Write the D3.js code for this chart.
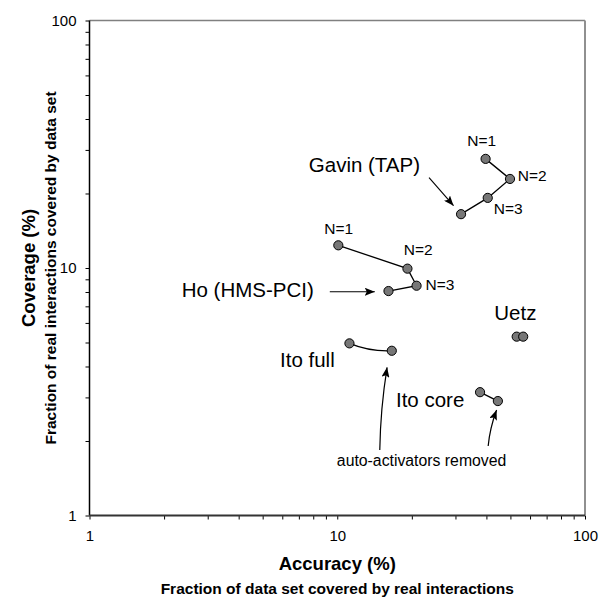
<!DOCTYPE html>
<html>
<head>
<meta charset="utf-8">
<script src="https://cdn.jsdelivr.net/npm/d3@7"></script>
<style>
  body { margin: 0; background: #fff; }
  svg { font-family: "Liberation Sans", Arial, sans-serif; }
</style>
</head>
<body>
<div id="chart"></div>
<script>

/* DATA (accuracy %, coverage %) */

const gavinAcc = [39.7, 49.8, 40.5, 31.6];
const gavinCov = [27.6, 22.9, 19.2, 16.5];
const gavinN = ["N=1", "N=2", "N=3"];

const hoAcc = [10.1, 19.2, 20.9, 16.1];
const hoCov = [12.35, 9.94, 8.48, 8.07];
const hoN = ["N=1", "N=2", "N=3"];

const uetzAcc = [53.0, 56.3];
const uetzCov = [5.28, 5.28];

const itoFullAcc = [11.2, 16.6];
const itoFullCov = [4.96, 4.63];

const itoCoreAcc = [37.7, 44.5];
const itoCoreCov = [3.15, 2.90];

const tickValues = [1, 2, 3, 4, 5, 6, 7, 8, 9, 10, 20, 30, 40, 50, 60, 70, 80, 90, 100];
const tickLabels = [1, 10, 100];

/* CONSTANTS */

const width = 600;
const height = 598;
const margin = { top: 20.5, right: 15, bottom: 82.5, left: 89.5 };

const toPoints = (xs, ys) => xs.map((x, i) => ({ x: x, y: ys[i] }));

const gavin = toPoints(gavinAcc, gavinCov);
const ho = toPoints(hoAcc, hoCov);
const uetz = toPoints(uetzAcc, uetzCov);
const itoFull = toPoints(itoFullAcc, itoFullCov);
const itoCore = toPoints(itoCoreAcc, itoCoreCov);

// SCALES
const xScale = d3.scaleLog()
  .domain([1, 100])
  .range([margin.left, width - margin.right]);

const yScale = d3.scaleLog()
  .domain([1, 100])
  .range([height - margin.bottom, margin.top]);

const svg = d3.select("#chart")
  .append("svg")
  .attr("width", width)
  .attr("height", height);

// arrow head
svg.append("defs").append("marker")
  .attr("id", "arrow")
  .attr("markerUnits", "userSpaceOnUse")
  .attr("viewBox", "0 0 10 8")
  .attr("refX", 10)
  .attr("refY", 4)
  .attr("markerWidth", 10)
  .attr("markerHeight", 8)
  .attr("orient", "auto")
  .append("path")
  .attr("d", "M0,0 L10,4 L0,8 L2,4 Z")
  .attr("fill", "#000");

// AXES
const fmt = d => tickLabels.includes(d) ? d : "";

const xAxis = d3.axisBottom(xScale)
  .tickValues(tickValues)
  .tickFormat(fmt)
  .tickSize(4)
  .tickPadding(11);

const yAxis = d3.axisLeft(yScale)
  .tickValues(tickValues)
  .tickFormat(fmt)
  .tickSize(4)
  .tickPadding(9);

const gx = svg.append("g")
  .attr("transform", `translate(0, ${yScale(1)})`)
  .call(xAxis);

const gy = svg.append("g")
  .attr("transform", `translate(${xScale(1)}, 0)`)
  .call(yAxis);

[gx, gy].forEach(g => {
  g.select(".domain").remove();
  g.selectAll(".tick line").attr("stroke", "#000").attr("stroke-width", 1);
  g.selectAll(".tick text")
    .attr("fill", "#000")
    .style("font-size", "15px")
    .style("font-family", "'Liberation Sans', Arial, sans-serif");
});

// plot frame: top/right grey, left/bottom black
svg.append("line")
  .attr("x1", xScale(1)).attr("x2", xScale(100))
  .attr("y1", yScale(100)).attr("y2", yScale(100))
  .attr("stroke", "#808080").attr("stroke-width", 1.5);
svg.append("line")
  .attr("x1", xScale(100)).attr("x2", xScale(100))
  .attr("y1", yScale(100)).attr("y2", yScale(1))
  .attr("stroke", "#909090").attr("stroke-width", 2);
svg.append("line")
  .attr("x1", xScale(1)).attr("x2", xScale(1))
  .attr("y1", yScale(100)).attr("y2", yScale(1))
  .attr("stroke", "#000").attr("stroke-width", 1.5);
svg.append("line")
  .attr("x1", xScale(1)).attr("x2", xScale(100))
  .attr("y1", yScale(1)).attr("y2", yScale(1))
  .attr("stroke", "#333").attr("stroke-width", 2);

// AXIS TITLES
const plotCx = (xScale(1) + xScale(100)) / 2;
const plotCy = (yScale(1) + yScale(100)) / 2;

svg.append("text")
  .attr("x", plotCx)
  .attr("y", 570)
  .attr("text-anchor", "middle")
  .style("font-weight", "bold")
  .style("font-size", "18.5px")
  .text("Accuracy (%)");

svg.append("text")
  .attr("x", plotCx)
  .attr("y", 594)
  .attr("text-anchor", "middle")
  .style("font-weight", "bold")
  .style("font-size", "15.5px")
  .text("Fraction of data set covered by real interactions");

svg.append("text")
  .attr("transform", `translate(35, ${plotCy}) rotate(-90)`)
  .attr("text-anchor", "middle")
  .style("font-weight", "bold")
  .style("font-size", "18.5px")
  .text("Coverage (%)");

svg.append("text")
  .attr("transform", `translate(56, ${plotCy}) rotate(-90)`)
  .attr("text-anchor", "middle")
  .style("font-weight", "bold")
  .style("font-size", "15.5px")
  .text("Fraction of real interactions covered by data set");

// LINES
const line = d3.line()
  .x(d => xScale(d.x))
  .y(d => yScale(d.y));

[gavin, ho, itoCore].forEach(series => {
  svg.append("path")
    .datum(series)
    .attr("d", line)
    .attr("fill", "none")
    .attr("stroke", "#000")
    .attr("stroke-width", 1.3);
});

// Ito full is drawn as a smoothed line in the original
const f0 = itoFull[0], f1 = itoFull[1];
svg.append("path")
  .attr("d", `M${xScale(f0.x)},${yScale(f0.y)} Q${xScale(f1.x) - 22},${yScale(f1.y) + 1} ${xScale(f1.x)},${yScale(f1.y)}`)
  .attr("fill", "none")
  .attr("stroke", "#000")
  .attr("stroke-width", 1.3);

// POINTS
const allPoints = [].concat(gavin, ho, uetz, itoFull, itoCore);

svg.selectAll("circle.dot")
  .data(allPoints)
  .join("circle")
  .attr("class", "dot")
  .attr("cx", d => xScale(d.x))
  .attr("cy", d => yScale(d.y))
  .attr("r", 4.6)
  .attr("fill", "#777")
  .attr("stroke", "#000")
  .attr("stroke-width", 1);

// LABELS ============================================
const px = d => xScale(d.x);
const py = d => yScale(d.y);

const label = (x, y, txt, size, anchor) =>
  svg.append("text")
    .attr("x", x)
    .attr("y", y)
    .attr("text-anchor", anchor || "start")
    .style("font-size", size + "px")
    .attr("fill", "#000")
    .text(txt);

const arrow = (x1, y1, x2, y2, bend) => {
  const mx = (x1 + x2) / 2 + (bend || 0);
  const my = (y1 + y2) / 2;
  svg.append("path")
    .attr("d", `M${x1},${y1} Q${mx},${my} ${x2},${y2}`)
    .attr("fill", "none")
    .attr("stroke", "#000")
    .attr("stroke-width", 1.2)
    .attr("marker-end", "url(#arrow)");
};

// N= labels
const gavinOff = [[-18.4, -13], [7.7, 2], [6, 16.3]];
gavinN.forEach((t, i) => label(px(gavin[i]) + gavinOff[i][0], py(gavin[i]) + gavinOff[i][1], t, 15.5));

const hoOff = [[-14, -11.3], [-3.7, -13.7], [9, 4.3]];
hoN.forEach((t, i) => label(px(ho[i]) + hoOff[i][0], py(ho[i]) + hoOff[i][1], t, 15.5));

// Gavin
label(px(gavin[3]) - 41, py(gavin[3]) - 42.6, "Gavin (TAP)", 20.5, "end");
arrow(px(gavin[3]) - 32, py(gavin[3]) - 36.6, px(gavin[3]) - 7.5, py(gavin[3]) - 8.5);

// Ho
label(px(ho[3]) - 74.7, py(ho[3]) + 5.7, "Ho (HMS-PCI)", 20.5, "end");
arrow(px(ho[3]) - 58.7, py(ho[3]) + 0.7, px(ho[3]) - 13.7, py(ho[3]) + 0.7);

// Uetz
label(px(uetz[0]) - 22.4, py(uetz[0]) - 16.7, "Uetz", 20.5);

// Ito full
label(px(itoFull[0]) - 14.7, py(itoFull[0]) + 23.4, "Ito full", 20.5, "end");
arrow(px(itoFull[1]) - 12, py(itoFull[1]) + 99.3, px(itoFull[1]) - 4.7, py(itoFull[1]) + 16.6, -3);

// Ito core
label(px(itoCore[0]) - 15.7, py(itoCore[0]) + 15, "Ito core", 20.5, "end");
arrow(px(itoCore[1]) - 9.7, py(itoCore[1]) + 45, px(itoCore[1]) - 1.3, py(itoCore[1]) + 9, -2.5);

label(px(itoCore[1]) - 76.3, py(itoCore[1]) + 65, "auto-activators removed", 15.8, "middle");

</script>
</body>
</html>
